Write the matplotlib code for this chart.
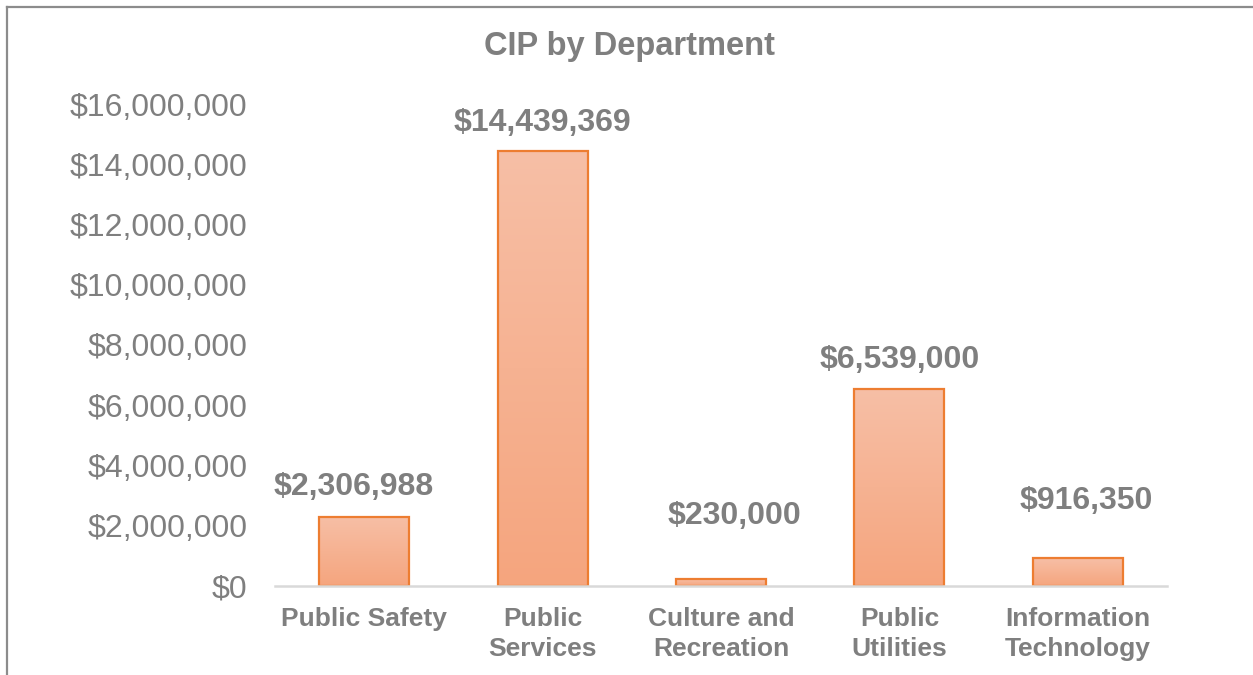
import numpy as np
import matplotlib
matplotlib.use("Agg")
import matplotlib.pyplot as plt
from matplotlib.lines import Line2D
from matplotlib.colors import LinearSegmentedColormap

# Capital improvement spending per department
departments = ["Public Safety", "Public\nServices", "Culture and\nRecreation",
               "Public\nUtilities", "Information\nTechnology"]
amounts = [2306988, 14439369, 230000, 6539000, 916350]
y_ticks = [0, 2000000, 4000000, 6000000, 8000000, 10000000, 12000000, 14000000, 16000000]

# label nudges (pixels) so the value labels sit where they read best
label_dx = [-10, 0, 13, 0, 8]
label_dy = [30, 28, 63, 29, 57]

plt.rcParams["font.family"] = ["Liberation Sans", "DejaVu Sans"]
GRAY = "#7F7F7F"

fig = plt.figure(figsize=(12.53, 6.75), dpi=100)
ax = fig.add_axes([275 / 1253, (675 - 586) / 675, (1167 - 275) / 1253, (586 - 104) / 675])

x = np.arange(len(departments))
width = 0.505
grad = LinearSegmentedColormap.from_list("bar", ["#F5A57E", "#F7BFA6"])
g = np.linspace(1, 0, 256).reshape(-1, 1)

bars = ax.bar(x, amounts, width=width, facecolor="none", edgecolor="#ED7D31",
              linewidth=1.6, zorder=3)
for rect in bars:
    x0, w, h = rect.get_x(), rect.get_width(), rect.get_height()
    ax.imshow(g, extent=[x0, x0 + w, 0, h], aspect="auto", cmap=grad,
              origin="upper", zorder=2, interpolation="bilinear")

for xi, v, dx, dy in zip(x, amounts, label_dx, label_dy):
    ax.annotate(f"${v:,.0f}", (xi, v), xytext=(dx, dy), textcoords="offset pixels",
                ha="center", va="center", fontsize=23, fontweight="bold", color=GRAY)

ax.set_xlim(-0.5, len(departments) - 0.5)
ax.set_ylim(0, 16000000)
ax.set_yticks(y_ticks)
ax.set_yticklabels([f"${t:,.0f}" for t in y_ticks], fontsize=23, color=GRAY)
ax.set_xticks(x)
ax.set_xticklabels(departments, fontsize=19, fontweight="bold", color=GRAY)
for lbl in ax.get_xticklabels():
    lbl.set_linespacing(1.32)
ax.tick_params(axis="y", length=0, pad=20)
ax.tick_params(axis="x", length=0, pad=15)

for s in ("top", "right", "left"):
    ax.spines[s].set_visible(False)
ax.spines["bottom"].set_color("#D9D9D9")
ax.spines["bottom"].set_linewidth(1.8)
ax.spines["bottom"].set_zorder(4)

fig.text(630 / 1253, 1 - 46 / 675, "CIP by Department", ha="center", va="center",
         fontsize=23.5, fontweight="bold", color=GRAY)

# outer chart border (top and left edges)
fig.add_artist(Line2D([6.5 / 1253, 1], [1 - 6.5 / 675, 1 - 6.5 / 675],
                      color="#8C8C8C", linewidth=1.6, transform=fig.transFigure))
fig.add_artist(Line2D([6.5 / 1253, 6.5 / 1253], [0, 1 - 6.5 / 675],
                      color="#8C8C8C", linewidth=1.6, transform=fig.transFigure))

fig.savefig("out.png", dpi=100)
